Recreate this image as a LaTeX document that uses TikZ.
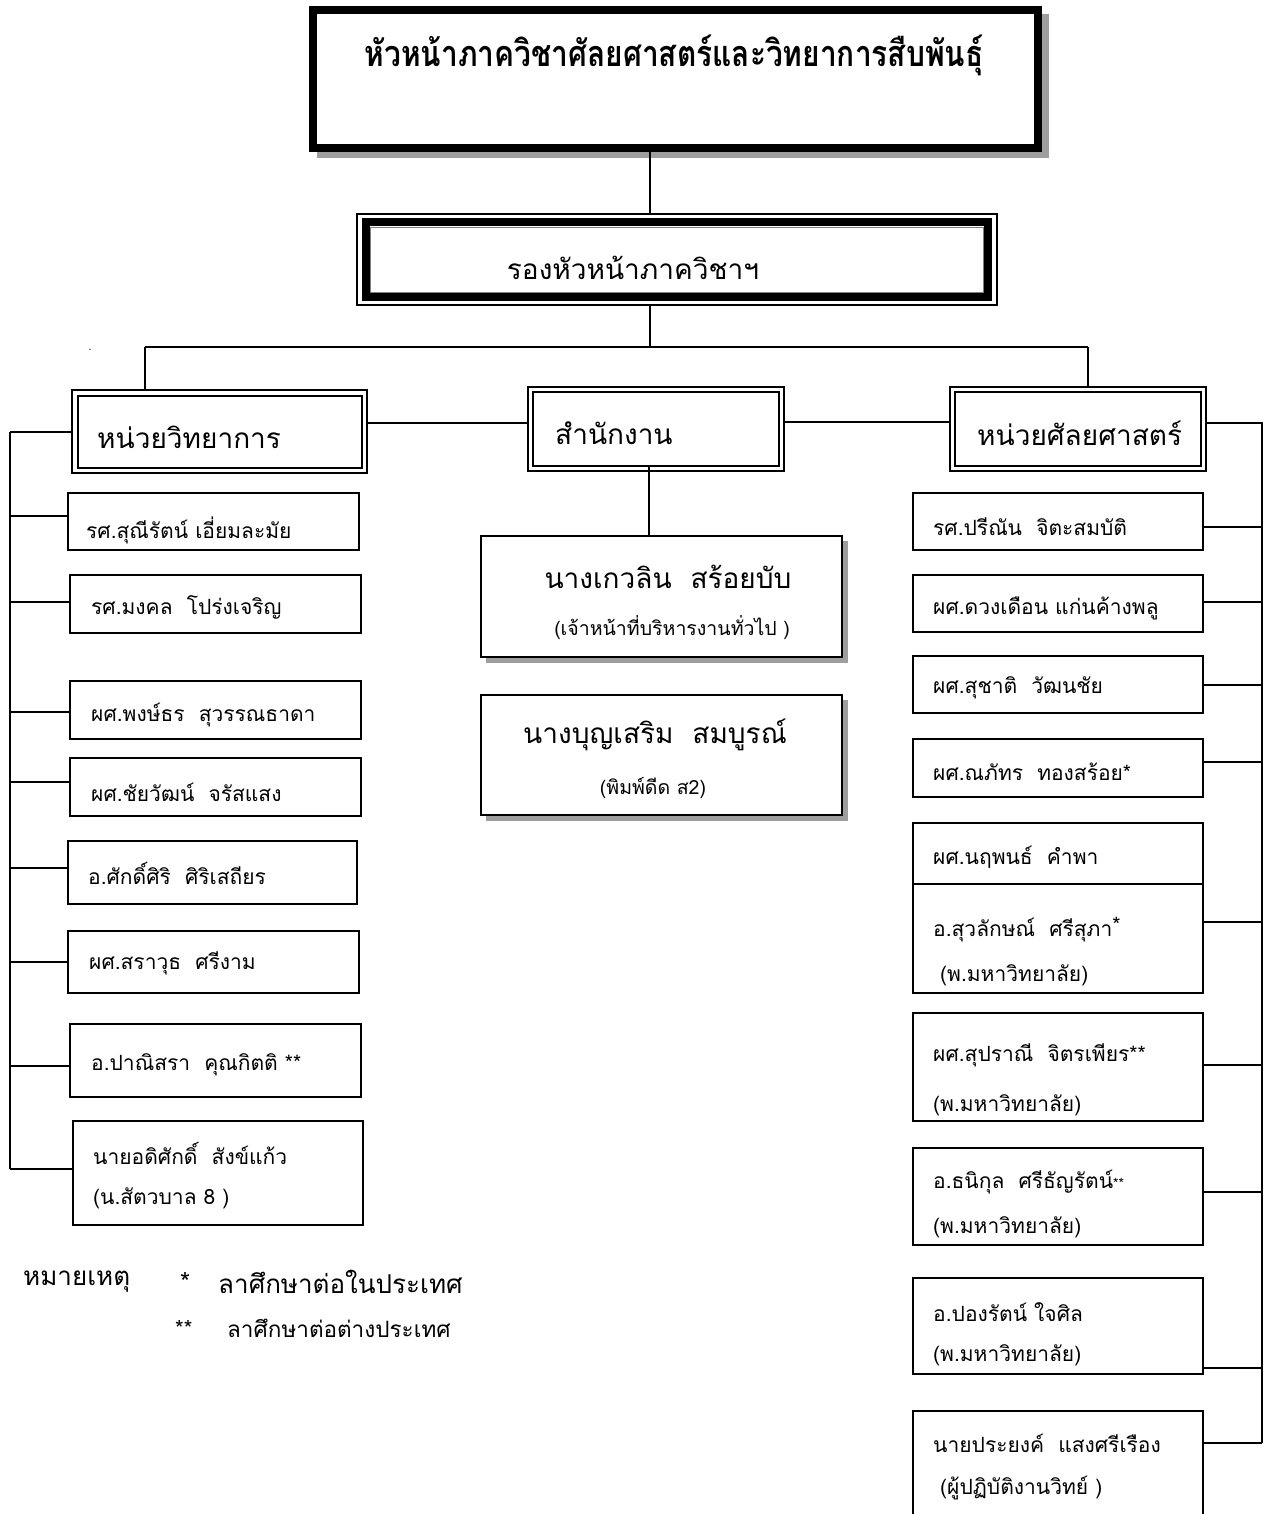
\documentclass[tikz,border=0pt]{standalone}
\usepackage{fontspec}
\newfontfamily\thai[Script=Thai]{Loma}
\usetikzlibrary{fit}
\begin{document}
\begin{tikzpicture}[x=1pt,y=-1pt,
  conn/.style={line width=1.8pt},
  pbox/.style={draw, line width=1.8pt, fill=white, inner sep=0pt},
  outerthin/.style={draw, line width=1.5pt, inner sep=0pt, fill=white},
  innerthick/.style={draw, line width=2pt, inner sep=0pt},
  mtext/.style={anchor=west, inner sep=0pt, font=\thai\fontsize{21}{25}\selectfont},
  htext/.style={anchor=west, inner sep=0pt, font=\thai\fontsize{28}{32}\selectfont},
  ctext/.style={inner sep=0pt, font=\thai\fontsize{28}{32}\selectfont},
  stext/.style={inner sep=0pt, font=\thai\fontsize{19.5}{22}\selectfont},
  shadowfill/.style={fill=black!38}
]
\useasboundingbox (0,0) rectangle (1273,1514);
\fill[white] (0,0) rectangle (1273,1514);

% ---------- coordinates for buses
\coordinate (cx) at (650,0);
\coordinate (hbl) at (145,347);
\coordinate (hbr) at (1088,347);
\coordinate (lbus) at (10,0);
\coordinate (rbus) at (1262,0);

% ---------- top box
\fill[shadowfill] (317,14) rectangle (1049,158);
\node[draw, line width=8pt, fill=white, inner sep=0pt, fit={(313,10)(1038,148)}] (head) {};
\node[inner sep=0pt, font=\thai\bfseries\fontsize{36}{40}\selectfont] (headt) at (674,55) {\scalebox{0.83}[1]{หัวหน้าภาควิชาศัลยศาสตร์และวิทยาการสืบพันธุ์}};

% ---------- vice box
\node[outerthin, fit={(357,214)(997,305)}] (vice) {};
\node[draw, line width=8pt, inner sep=0pt, fit={(366,222.5)(988,296.5)}] (vicein) {};
\node[draw=black!50, line width=0.8pt, inner sep=0pt, fit={(370.5,227)(983.5,292)}] (viceinn) {};
\node[ctext] (vicet) at (633,268) {รองหัวหน้าภาควิชาฯ};

\draw[conn] (head.south -| cx) -- (vice.north -| cx);
\draw[conn] (vice.south -| cx) -- (hbl -| cx);
\draw[conn] (hbl) -- (hbr);

% ---------- level 3
\node[outerthin, fit={(72,390)(367,473)}] (L) {};
\node[innerthick, fit={(77.5,395.5)(361.5,467.5)}] (Lin) {};
\node[htext] (Lt) at (97,437) {หน่วยวิทยาการ};

\node[outerthin, fit={(528,387)(784,471)}] (O) {};
\node[innerthick, fit={(533,392)(779,466)}] (Oin) {};
\node[htext] (Ot) at (555,433) {สำนักงาน};

\node[outerthin, fit={(950,387)(1206,471)}] (R) {};
\node[innerthick, fit={(955,392)(1201,466)}] (Rin) {};
\node[htext] (Rt) at (977,433) {หน่วยศัลยศาสตร์};

\draw[conn] (hbl) -- (hbl |- L.north);
\draw[conn] (hbr) -- (hbr |- R.north);
\coordinate (lo) at (0,423);
\coordinate (or) at (0,422);
\draw[conn] (L.east |- lo) -- (O.west |- lo);
\draw[conn] (O.east |- or) -- (R.west |- or);

% ---------- middle
\coordinate (mx) at (649,0);
\fill[shadowfill] (486,541) rectangle (848,663);
\node[pbox, fit={(481,536)(842,657)}] (K1) {};
\node[ctext] (K1a) at (668,577) {นางเกวลิน~~สร้อยบับ};
\node[stext] (K1b) at (672,628) {(เจ้าหน้าที่บริหารงานทั่วไป )};
\fill[shadowfill] (486,700) rectangle (848,821);
\node[pbox, fit={(481,695)(842,815)}] (K2) {};
\node[ctext] (K2a) at (655,735) {นางบุญเสริม~~สมบูรณ์};
\node[stext] (K2b) at (653,788) {(พิมพ์ดีด ส2)};
\draw[conn] (Oin.south -| mx) -- (K1.north -| mx);

% ---------- left column
\coordinate (lt) at (0,432);
\draw[conn] (L.west |- lt) -- (lbus |- lt);
\node[pbox, fit={(68,493)(359,550)}] (A1) {};
\node[mtext] at (86,530) {รศ.สุณีรัตน์ เอี่ยมละมัย};
\node[pbox, fit={(70,575)(361,633)}] (A2) {};
\node[mtext] at (91,607) {รศ.มงคล~~โปร่งเจริญ};
\node[pbox, fit={(70,681)(361,739)}] (A3) {};
\node[mtext] at (91,715) {ผศ.พงษ์ธร~~สุวรรณธาดา};
\node[pbox, fit={(70,758)(361,816)}] (A4) {};
\node[mtext] at (91,792) {ผศ.ชัยวัฒน์~~จรัสแสง};
\node[pbox, fit={(68,841)(357,904)}] (A5) {};
\node[mtext] at (88,873) {อ.ศักดิ์ศิริ~~ศิริเสถียร};
\node[pbox, fit={(68,931)(359,993)}] (A6) {};
\node[mtext] at (89,963) {ผศ.สราวุธ~~ศรีงาม};
\node[pbox, fit={(70,1024)(361,1097)}] (A7) {};
\node[mtext] at (91,1065) {อ.ปาณิสรา~~คุณกิตติ **};
\node[pbox, fit={(73,1121)(363,1225)}] (A8) {};
\node[mtext] at (93,1153) {นายอดิศักดิ์~~สังข์แก้ว};
\node[mtext] at (93,1198) {(น.สัตวบาล 8 )};

\coordinate (l1) at (10,516);
\coordinate (l2) at (10,602);
\coordinate (l3) at (10,712);
\coordinate (l4) at (10,782);
\coordinate (l5) at (10,868);
\coordinate (l6) at (10,962);
\coordinate (l7) at (10,1066);
\coordinate (l8) at (10,1169);
\draw[conn] (lbus |- lt) -- (l8);
\foreach \i in {1,...,8} {\draw[conn] (l\i) -- (l\i -| A\i.west);}

% ---------- right column
\node[pbox, fit={(913,493)(1203,550)}] (B1) {};
\node[mtext] at (933,527) {รศ.ปรีณัน~~จิตะสมบัติ};
\node[pbox, fit={(913,575)(1203,632)}] (B2) {};
\node[mtext] at (933,608) {ผศ.ดวงเดือน แก่นค้างพลู};
\node[pbox, fit={(913,656)(1203,713)}] (B3) {};
\node[mtext] at (933,688) {ผศ.สุชาติ~~วัฒนชัย};
\node[pbox, fit={(913,739)(1203,797)}] (B4) {};
\node[mtext] at (933,772) {ผศ.ณภัทร~~ทองสร้อย*};
\node[pbox, fit={(913,823)(1203,993)}] (B5) {};
\draw[line width=1.8pt] (B5.west |- 0,884) -- (B5.east |- 0,884);
\node[mtext] at (933,857) {ผศ.นฤพนธ์~~คำพา};
\node[mtext] at (933,930) {อ.สุวลักษณ์~~ศรีสุภา\raisebox{4pt}{*}};
\node[mtext] at (940,975) {(พ.มหาวิทยาลัย)};
\node[pbox, fit={(913,1013)(1203,1121)}] (B6) {};
\node[mtext] at (933,1055) {ผศ.สุปราณี~~จิตรเพียร**};
\node[mtext] at (933,1105) {(พ.มหาวิทยาลัย)};
\node[pbox, fit={(913,1148)(1203,1245)}] (B7) {};
\node[mtext] at (933,1182) {อ.ธนิกุล~~ศรีธัญรัตน์{\fontsize{14}{16}\selectfont **}};
\node[mtext] at (933,1227) {(พ.มหาวิทยาลัย)};
\node[pbox, fit={(913,1278)(1203,1374)}] (B8) {};
\node[mtext] at (933,1312) {อ.ปองรัตน์ ใจศิล};
\node[mtext] at (933,1355) {(พ.มหาวิทยาลัย)};
\node[pbox, fit={(913,1411)(1203,1540)}] (B9) {};
\node[mtext] at (933,1443) {นายประยงค์~~แสงศรีเรือง};
\node[mtext] at (940,1488) {(ผู้ปฏิบัติงานวิทย์ )};

\coordinate (rt) at (1262,423);
\coordinate (r1) at (1262,527);
\coordinate (r2) at (1262,602);
\coordinate (r3) at (1262,685);
\coordinate (r4) at (1262,762);
\coordinate (r5) at (1262,922);
\coordinate (r6) at (1262,1065);
\coordinate (r7) at (1262,1192);
\coordinate (r8) at (1262,1368);
\coordinate (r9) at (1262,1443);
\draw[conn] (R.east |- rt) -- (rt) -- (r9);
\foreach \i in {1,...,9} {\draw[conn] (r\i) -- (r\i -| B\i.east);}

% ---------- stray dot and notes
\node[inner sep=0pt, font=\fontsize{16}{18}\selectfont] (dot) at (90,350) {.};
\node[htext, font=\thai\fontsize{26}{30}\selectfont] (n0) at (23,1282) {หมายเหตุ};
\node[htext, font=\thai\fontsize{26}{30}\selectfont] (n1s) at (180,1282) {*};
\node[htext, font=\thai\fontsize{26}{30}\selectfont] (n1) at (218,1282) {ลาศึกษาต่อในประเทศ};
\node[mtext, font=\thai\fontsize{22}{26}\selectfont] (n2s) at (175,1328) {**};
\node[mtext, font=\thai\fontsize{22.5}{26}\selectfont] (n2) at (227,1328) {ลาศึกษาต่อต่างประเทศ};
\end{tikzpicture}
\end{document}
